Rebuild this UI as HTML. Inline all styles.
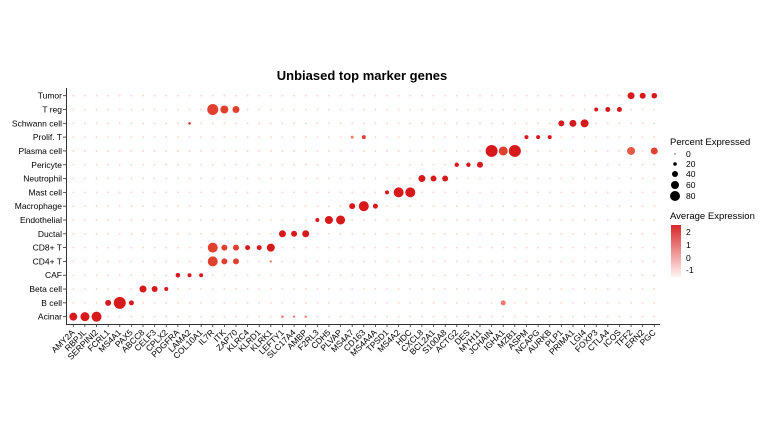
<!DOCTYPE html>
<html><head><meta charset="utf-8"><style>
html,body{margin:0;padding:0;background:#fff;}
svg text{font-family:"Liberation Sans",Arial,sans-serif;}
</style></head><body>
<svg id="s" width="770" height="432" xmlns="http://www.w3.org/2000/svg">
<defs><linearGradient id="g" x1="0" y1="0" x2="0" y2="1"><stop offset="0" stop-color="#d9272a"/><stop offset="1" stop-color="#fff5f3"/></linearGradient></defs>
<text x="362" y="80" text-anchor="middle" font-size="13" font-weight="bold">Unbiased top marker genes</text>
<line x1="66.5" y1="88" x2="66.5" y2="324" stroke="#333" stroke-width="1"/>
<line x1="66" y1="324.5" x2="660" y2="324.5" stroke="#333" stroke-width="1"/>
<g id="pts"></g>
<text x="670" y="145" font-size="9.5">Percent Expressed</text>
<circle cx="675" cy="154" r="0.6" fill="#000"/><text x="686" y="157" font-size="8.5">0</text>
<circle cx="675" cy="164" r="1.8" fill="#000"/><text x="686" y="167" font-size="8.5">20</text>
<circle cx="675" cy="174" r="3" fill="#000"/><text x="686" y="177" font-size="8.5">40</text>
<circle cx="675" cy="185" r="4" fill="#000"/><text x="686" y="188" font-size="8.5">60</text>
<circle cx="675" cy="196" r="5" fill="#000"/><text x="686" y="199" font-size="8.5">80</text>
<text x="670" y="219" font-size="9.5">Average Expression</text>
<rect x="671" y="225" width="10" height="52" fill="url(#g)"/>
<text x="686" y="235" font-size="8.5">2</text>
<text x="686" y="248" font-size="8.5">1</text>
<text x="686" y="261" font-size="8.5">0</text>
<text x="686" y="273" font-size="8.5">-1</text>
</svg>
<script>
var genes="AMY2A RBPJL SERPINI2 FCRL1 MS4A1 PAX5 ABCC8 CELF3 CPLX2 PDGFRA LAMA2 COL10A1 IL7R ITK ZAP70 KLRC4 KLRD1 KLRK1 LEFTY1 SLC17A4 AMBP F2RL3 CDH5 PLVAP MS4A7 CD163 MS4A4A TPSD1 MS4A2 HDC CXCL8 BCL2A1 S100A8 ACTG2 DES MYH11 JCHAIN IGHA1 MZB1 ASPM NCAPG AURKB PLP1 PRIMA1 LGI4 FOXP3 CTLA4 ICOS TFF2 ERN2 PGC".split(" ");
var rows=["Tumor","T reg","Schwann cell","Prolif. T","Plasma cell","Pericyte","Neutrophil","Mast cell","Macrophage","Endothelial","Ductal","CD8+ T","CD4+ T","CAF","Beta cell","B cell","Acinar"];
var x0=73.3,dx=11.62,y0=95.7,dy=13.81;
var s=document.getElementById("s"),g=document.getElementById("pts"),NS="http://www.w3.org/2000/svg";
function el(t,a,txt){var e=document.createElementNS(NS,t);for(var k in a)e.setAttribute(k,a[k]);if(txt!=null)e.textContent=txt;return e;}
var big={};
function set(r,c,rad,col){big[r+","+c]=[rad,col||"#d7191c"];}
var D="#d7191c",M="#e0412f",L="#ee7a6c";
set(16,0,4,D);set(16,1,4.5,D);set(16,2,5,D);
set(15,3,3,D);set(15,4,6,D);set(15,5,2.5,D);
set(14,6,3.5,D);set(14,7,3,D);set(14,8,2,D);
set(13,9,2.3,D);set(13,10,2,D);set(13,11,2,D);
set(12,12,5,M);set(12,13,3,M);set(12,14,3,M);set(12,17,1.2,L);
set(11,12,5,M);set(11,13,3,M);set(11,14,3,M);set(11,15,2.5,D);set(11,16,2.5,D);set(11,17,4,D);
set(1,12,5.5,M);set(1,13,4,M);set(1,14,3.5,M);
set(10,18,3.5,D);set(10,19,3,D);set(10,20,3.5,D);
set(9,21,2,D);set(9,22,4,D);set(9,23,4.5,D);
set(8,24,3,D);set(8,25,5,D);set(8,26,2.5,D);
set(7,27,2,D);set(7,28,5,D);set(7,29,5,D);
set(6,30,3.5,D);set(6,31,3,D);set(6,32,3,D);
set(5,33,2.2,D);set(5,34,2.2,D);set(5,35,3,D);
set(4,36,6,D);set(4,37,4.5,M);set(4,38,6,D);set(4,48,4,"#e85a48");set(4,50,3.5,M);
set(3,39,2,D);set(3,40,2,D);set(3,41,2,D);set(3,25,2,M);set(3,24,1.5,L);
set(2,42,3,D);set(2,43,3.5,D);set(2,44,4,D);set(2,10,1.3,M);
set(1,45,2,D);set(1,46,2.5,D);set(1,47,2.5,D);
set(0,48,3.5,D);set(0,49,3,D);set(0,50,2.8,D);
set(15,37,2.5,L);set(16,18,1.3,L);set(16,19,1.2,L);set(16,20,1.2,L);
for(var r=0;r<rows.length;r++){
  var y=y0+r*dy;
  s.appendChild(el("text",{x:62,y:y+3,"text-anchor":"end","font-size":"8.5"},rows[r]));
  for(var c=0;c<genes.length;c++){
    var x=x0+c*dx,b=big[r+","+c];
    if(b)g.appendChild(el("circle",{cx:x,cy:y,r:b[0],fill:b[1]}));
    else g.appendChild(el("circle",{cx:x,cy:y,r:0.9,fill:"#fbcfc9"}));
  }
}
for(var c=0;c<genes.length;c++){
  var x=x0+c*dx;
  s.appendChild(el("line",{x1:x,y1:324,x2:x,y2:327,stroke:"#333","stroke-width":"0.8"}));
  s.appendChild(el("text",{x:x+2,y:333,"text-anchor":"end","font-size":"8.5",transform:"rotate(-45 "+(x+2)+" 333)"},genes[c]));
}
for(var r=0;r<rows.length;r++){var y=y0+r*dy;s.appendChild(el("line",{x1:63,y1:y,x2:66,y2:y,stroke:"#333","stroke-width":"0.8"}));}
</script>
</body></html>
